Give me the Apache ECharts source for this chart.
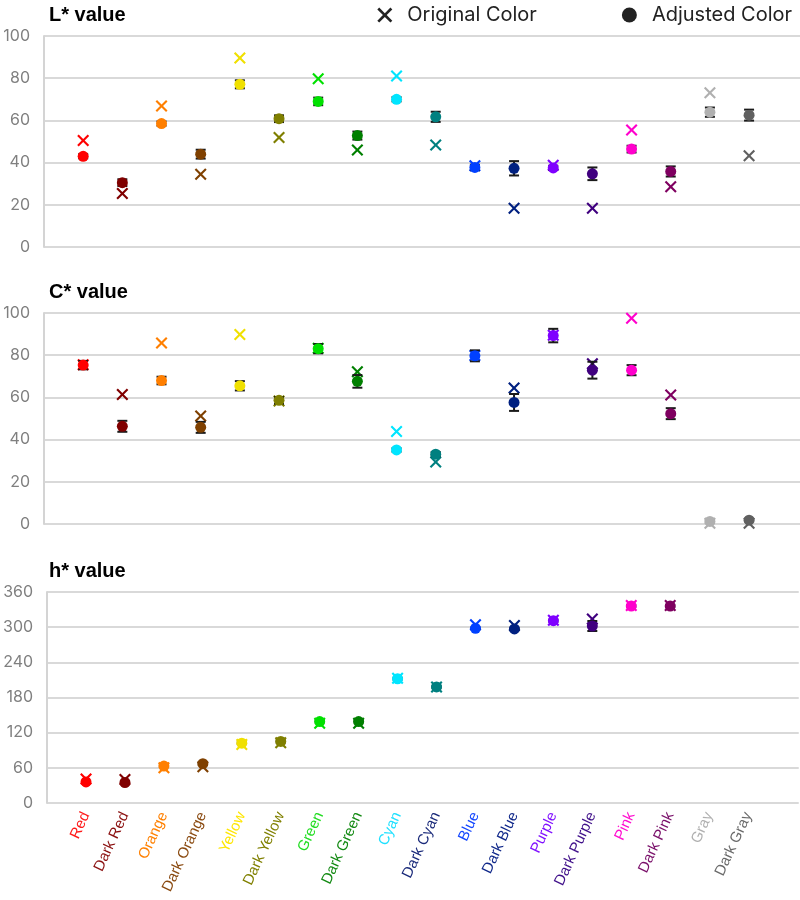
<!DOCTYPE html>
<html>
<head>
<meta charset="utf-8">
<title>L*C*h* values</title>
<script src="https://cdn.jsdelivr.net/npm/echarts@6/dist/echarts.min.js"></script>
<style>
  html, body { margin: 0; padding: 0; background: #fff; }
  #chart { width: 800px; height: 900px; }
</style>
</head>
<body>
<div id="chart"></div>
<script>
// categories and their colours
const colorNames = ['Red', 'Dark Red', 'Orange', 'Dark Orange', 'Yellow', 'Dark Yellow', 'Green', 'Dark Green',
  'Cyan', 'Dark Cyan', 'Blue', 'Dark Blue', 'Purple', 'Dark Purple', 'Pink', 'Dark Pink', 'Gray', 'Dark Gray'];
const markerColors = ['#ff0000', '#800000', '#ff7f00', '#7f4000', '#f0e000', '#7f7f00', '#00e000', '#007f00',
  '#00e5ff', '#008080', '#0040ff', '#002080', '#7f00ff', '#40007f', '#ff00cc', '#7f0060', '#b0b0b0', '#606060'];
const labelColors = ['#ff1a1a', '#8b1010', '#ff8000', '#8a4a10', '#ffe600', '#808000', '#22dd22', '#138a13',
  '#1ee0ff', '#1a2a7a', '#1447ff', '#10288a', '#8010ff', '#40108a', '#ff10d0', '#7a106a', '#b0b0b0', '#6a6a6a'];

// L* values
const lOriginal = [50.5, 25.3, 66.8, 34.5, 89.6, 51.9, 79.7, 46.0, 81.0, 48.4, 38.5, 18.4, 38.8, 18.4, 55.4, 28.5, 73.1, 43.2];
const lAdjusted = [43.0, 30.5, 58.5, 44.0, 77.1, 60.8, 69.0, 52.8, 70.0, 61.7, 37.7, 37.3, 37.5, 34.7, 46.4, 35.8, 63.9, 62.5];
const lError = [1.0, 1.6, 1.0, 2.1, 1.9, 1.6, 1.8, 1.9, 1.0, 2.4, 1.3, 3.4, 1.0, 3.0, 1.6, 2.4, 2.2, 2.6];

// C* values
const cOriginal = [75.5, 61.4, 85.8, 51.2, 89.8, 58.3, 83.3, 72.1, 43.8, 29.4, 79.9, 64.4, 89.5, 75.9, 97.5, 61.1, 0.3, 0.4];
const cAdjusted = [75.3, 46.3, 68.0, 45.8, 65.5, 58.6, 83.1, 67.6, 35.1, 33.1, 79.7, 57.6, 89.3, 72.9, 72.9, 52.3, 1.2, 1.8];
const cError = [2.0, 2.6, 1.8, 2.6, 2.2, 1.6, 2.2, 3.0, 0.8, 1.0, 2.6, 4.0, 3.2, 4.0, 2.4, 2.6, 0.6, 0.6];

// h* values (no hue for the grays)
const hOriginal = [41, 40, 60, 62, 100, 103, 136, 136, 213, 198, 304, 303, 312, 314, 337, 337, null, null];
const hAdjusted = [36, 35, 63, 67, 102, 105, 139, 139, 212, 198, 298, 297, 311, 302, 336, 336, null, null];
const hError = [1.5, 1.5, 1.5, 1.5, 1.5, 1.5, 1.5, 1.5, 1.5, 1.5, 1.5, 1.5, 1.5, 8.5, 1.5, 1.5, null, null];

const chart = echarts.init(document.getElementById('chart'));

const CROSS = 'path://M1.5,0L6,4.5L10.5,0L12,1.5L7.5,6L12,10.5L10.5,12L6,7.5L1.5,12L0,10.5L4.5,6L0,1.5Z';
const FONT = 'Inter';

const panels = [
  { title: 'L* value', top: 36, max: 100, interval: 20, orig: lOriginal, adj: lAdjusted, err: lError },
  { title: 'C* value', top: 313, max: 100, interval: 20, orig: cOriginal, adj: cAdjusted, err: cError },
  { title: 'h* value', top: 592, max: 360, interval: 60, orig: hOriginal, adj: hAdjusted, err: hError },
];

function points(values) {
  return values.map((v, i) => [i + 1, v]).filter((p) => p[1] !== null);
}

function errorBars(values, errs) {
  return values
    .map((v, i) => (v === null ? null : [i + 1, v - errs[i], v + errs[i]]))
    .filter((p) => p !== null);
}

function renderErrorBar(params, api) {
  const x = api.value(0);
  const lo = api.coord([x, api.value(1)]);
  const hi = api.coord([x, api.value(2)]);
  const half = 5;
  const style = { stroke: '#1a1a1a', lineWidth: 2 };
  return {
    type: 'group',
    children: [
      { type: 'line', shape: { x1: lo[0], y1: lo[1], x2: hi[0], y2: hi[1] }, style },
      { type: 'line', shape: { x1: lo[0] - half, y1: lo[1], x2: lo[0] + half, y2: lo[1] }, style },
      { type: 'line', shape: { x1: hi[0] - half, y1: hi[1], x2: hi[0] + half, y2: hi[1] }, style },
    ],
  };
}

const option = {
  animation: false,
  backgroundColor: '#fff',
  title: panels.map((p) => ({
    text: p.title,
    left: 44,
    top: p.top - 36,
    textStyle: { fontSize: 20, fontWeight: 'bold', color: '#000', fontFamily: 'Liberation Sans' },
  })),
  legend: {
    top: 0,
    right: 3,
    itemGap: 85,
    itemWidth: 15,
    itemHeight: 15,
    textStyle: { fontSize: 20, color: '#222', fontFamily: FONT, padding: [0, 0, 0, 10] },
    data: [
      { name: 'Original Color', icon: CROSS, itemStyle: { color: '#222' } },
      { name: 'Adjusted Color', icon: 'circle', itemStyle: { color: '#222' } },
    ],
  },
  grid: panels.map((p) => ({ left: 44, right: 0, top: p.top, height: 211 })),
  xAxis: panels.map((p, k) => ({
    type: 'value',
    gridIndex: k,
    min: 0,
    max: 19.3,
    interval: 1,
    axisLine: { show: false },
    axisTick: { show: false },
    splitLine: { show: false },
    axisLabel: {
      show: k === 2,
      rotate: 65,
      margin: 10,
      fontSize: 15,
      fontFamily: 'Liberation Sans',
      formatter: (v) => colorNames[v - 1] || '',
      color: (v) => labelColors[Number(v) - 1] || '#000',
    },
  })),
  yAxis: panels.map((p, k) => ({
    type: 'value',
    gridIndex: k,
    min: 0,
    max: p.max,
    interval: p.interval,
    axisLine: { show: true, lineStyle: { color: '#d4d4d4', width: 2 } },
    axisTick: { show: false },
    splitLine: { lineStyle: { color: '#d9d9d9', width: 2 } },
    axisLabel: { color: '#808080', fontSize: 16, fontFamily: FONT, margin: 14 },
  })),
  series: [],
};

panels.forEach((p, k) => {
  option.series.push({
    name: 'Original Color',
    type: 'scatter',
    xAxisIndex: k,
    yAxisIndex: k,
    symbol: CROSS,
    symbolSize: 12,
    z: 2,
    itemStyle: { opacity: 1, color: (params) => markerColors[params.data[0] - 1] },
    data: points(p.orig),
  });
  option.series.push({
    name: 'Error',
    type: 'custom',
    xAxisIndex: k,
    yAxisIndex: k,
    z: 3,
    renderItem: renderErrorBar,
    encode: { x: 0, y: [1, 2] },
    data: errorBars(p.adj, p.err),
  });
  option.series.push({
    name: 'Adjusted Color',
    type: 'scatter',
    xAxisIndex: k,
    yAxisIndex: k,
    symbol: 'circle',
    symbolSize: 11,
    z: 4,
    itemStyle: { opacity: 1, color: (params) => markerColors[params.data[0] - 1] },
    data: points(p.adj),
  });
});

chart.setOption(option);
</script>
</body>
</html>
